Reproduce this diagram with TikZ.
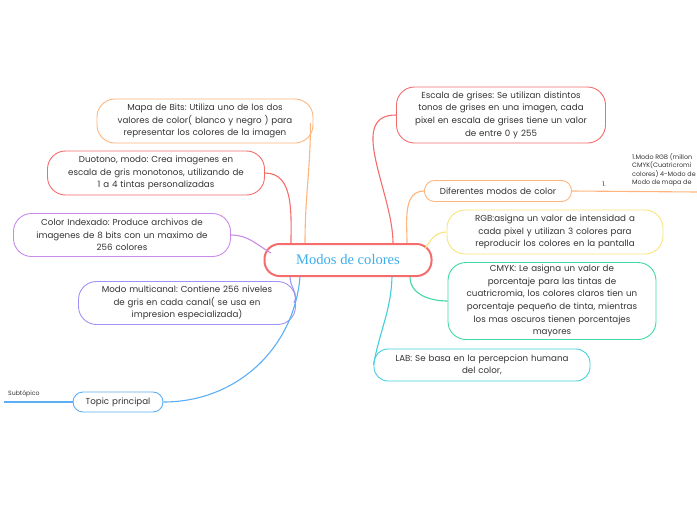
\documentclass[tikz,border=0pt]{standalone}
\usepackage{fontspec}
\setmainfont{Poppins}
\newfontfamily\titlefont{Liberation Serif}
\frenchspacing
\definecolor{mred}{HTML}{F46C6C}
\definecolor{morange}{HTML}{FFB47E}
\definecolor{mpurple}{HTML}{C98BEA}
\definecolor{mlav}{HTML}{9E94F5}
\definecolor{mblue}{HTML}{5AAEF5}
\definecolor{myellow}{HTML}{F6E47C}
\definecolor{mgreen}{HTML}{3FD9A5}
\definecolor{mcyan}{HTML}{40D0DD}
\definecolor{mtitle}{HTML}{3DAEEA}
\definecolor{mtext}{HTML}{333333}
\tikzset{
  topic/.style={draw=#1, line width=0.9pt, rounded corners=18pt, inner sep=0pt,
    align=center, text=mtext, font=\fontsize{8.7}{12.6}\selectfont},
  link/.style={draw=#1, line width=1.1pt},
}
\begin{document}
\begin{tikzpicture}[x=1pt,y=-1pt]
  \useasboundingbox (0,0) rectangle (697,520);
  \node[topic=mred, line width=2pt, rounded corners=15pt, minimum width=167pt,
    minimum height=32pt, text=mtitle, font=\titlefont\fontsize{14.6}{16}\selectfont]
    (ctr) at (348,260) {Modos de colores};
  % left side
  \node[topic=morange, text width=216pt, minimum height=44pt] (bits) at (205,121)
    {Mapa de Bits: Utiliza uno de los dos\\valores de color( blanco y negro ) para\\representar los colores de la imagen};
  \node[topic=mred, text width=217pt, minimum height=44pt] (duo) at (156,173)
    {Duotono, modo: Crea imagenes en\\escala de gris monotonos, utilizando de\\1 a 4 tintas personalizadas};
  \node[topic=mpurple, text width=217pt, minimum height=43pt] (idx) at (122,235)
    {Color Indexado: Produce archivos de\\imagenes de 8 bits con un maximo de\\256 colores};
  \node[topic=mlav, text width=217pt, minimum height=43pt] (multi) at (187,303)
    {Modo multicanal: Contiene 256 niveles\\de gris en cada canal( se usa en\\impresion especializada)};
  \node[topic=mblue, rounded corners=10pt, text width=90pt, minimum height=20pt] (tp) at (118,402)
    {Topic principal};
  \node[text=mtext, font=\fontsize{6.2}{7}\selectfont, anchor=south west, inner sep=0pt] (subt) at (8,397) {Subtópico};
  \coordinate (subend) at (4,402);
  % right side
  \node[topic=mred, text width=209pt, minimum height=56pt] (gris) at (501,115)
    {Escala de grises: Se utilizan distintos\\tonos de grises en una imagen, cada\\pixel en escala de grises tiene un valor\\de entre 0 y 255};
  \node[topic=morange, rounded corners=10pt, text width=147pt, minimum height=21pt] (dif) at (498,191)
    {Diferentes modos de color};
  \node[topic=myellow, text width=216pt, minimum height=44pt] (rgb) at (555,232)
    {RGB:asigna un valor de intensidad a\\cada pixel y utilizan 3 colores para\\reproducir los colores en la pantalla};
  \node[topic=mgreen, text width=208pt, minimum height=77pt] (cmyk) at (552,301)
    {CMYK: Le asigna un valor de\\porcentaje para las tintas de\\cuatricromia, los colores claros tien un\\porcentaje pequeño de tinta, mientras\\los mas oscuros tienen porcentajes\\mayores};
  \node[topic=mcyan, rounded corners=14pt, text width=216pt, minimum height=32pt] (lab) at (482,365)
    {LAB: Se basa en la percepcion humana\\del color,};
  \coordinate (difend) at (697,192);
  \node[text=mtext, font=\fontsize{6.4}{8.6}\selectfont, anchor=north west, align=left, inner sep=0pt] (modes) at (632,153)
    {1.Modo RGB (millon\\CMYK(Cuatricromi\\colores) 4-Modo de\\Modo de mapa de};
  \node[text=mtext, font=\fontsize{6.4}{7}\selectfont, inner sep=0pt] (num) at (604,184) {1.};
  % connectors
  \draw[link=morange] ([xshift=-43pt]ctr.north) to[out=90, in=-90] ([xshift=-3pt,yshift=-2pt]bits.east);
  \draw[link=mred] ([xshift=-57pt]ctr.north) to[out=90, in=0] (duo.east);
  \draw[link=mpurple] ([xshift=-77pt,yshift=-10pt]ctr.north) to[out=150, in=0] (idx.east);
  \draw[link=mlav] ([xshift=-58pt]ctr.south) to[out=-90, in=60] ([xshift=-2pt]multi.east);
  \draw[link=mblue] ([xshift=-48pt]ctr.south) to[out=-95, in=0] (tp.east);
  \draw[link=mblue] (tp.west) -- (subend);
  \draw[link=mred] ([xshift=45pt]ctr.north) to[out=90, in=180] (gris.west);
  \draw[link=morange] ([xshift=59pt]ctr.north) to[out=90, in=180] (dif.west);
  \draw[link=morange] (dif.east) -- (difend);
  \draw[link=myellow] ([xshift=77pt,yshift=-6pt]ctr.north) to[out=60, in=180] (rgb.west);
  \draw[link=mgreen] ([xshift=62pt]ctr.south) to[out=-90, in=180] (cmyk.west);
  \draw[link=mcyan] ([xshift=44pt]ctr.south) to[out=-92, in=80] (lab.west);
\end{tikzpicture}
\end{document}
